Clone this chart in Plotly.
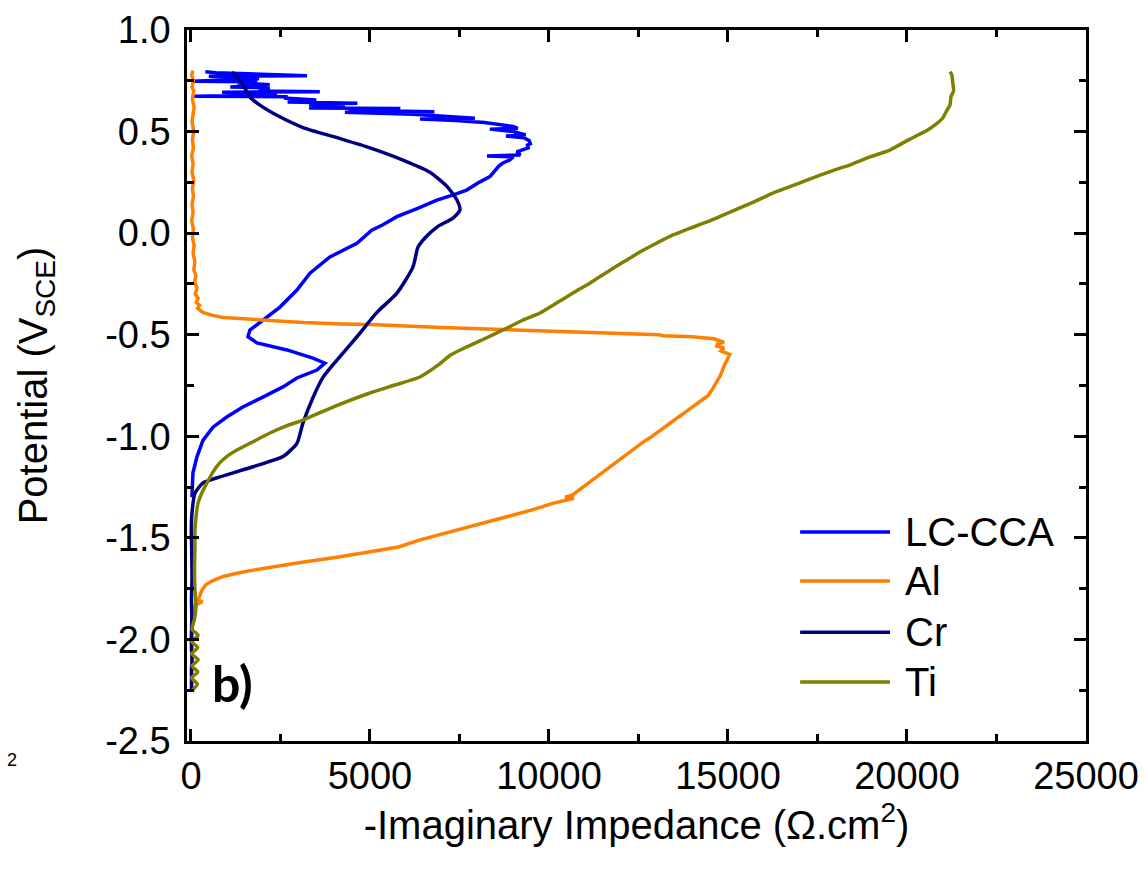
import plotly.graph_objects as go

# ---------------- data (potential V_SCE, -Z'' ohm.cm2) ----------------
lc_v = [0.795, 0.79, 0.775, 0.772, 0.768, 0.76, 0.748, 0.745, 0.74, 0.73, 0.72, 0.715, 0.70,
        0.696, 0.694, 0.69, 0.68, 0.674, 0.672, 0.665, 0.655, 0.645, 0.639, 0.635, 0.625, 0.616,
        0.614, 0.605, 0.598, 0.595, 0.585, 0.575, 0.565, 0.562, 0.555, 0.545, 0.535, 0.525, 0.516,
        0.512, 0.50, 0.49, 0.483, 0.478, 0.47, 0.455, 0.44, 0.434, 0.42, 0.40, 0.385, 0.38, 0.375,
        0.36, 0.344, 0.33, 0.31, 0.278, 0.25, 0.212, 0.19, 0.163, 0.12, 0.081, 0.04, 0.015, -0.05,
        -0.117, -0.197, -0.28, -0.364, -0.43, -0.477, -0.51, -0.54, -0.575, -0.615, -0.64, -0.674,
        -0.713, -0.757, -0.807, -0.856, -0.905, -0.955, -1.02, -1.10, -1.18, -1.30]
lc_z = [400, 700, 3240, 500, 1500, 1900, 28, 1850, 1300, 2200, 1100, 2200, 1900,
        3600, 870, 1800, 2400, 60, 2700, 2600, 3500, 2700, 4650, 3300, 4300, 3300,
        5850, 4400, 6800, 4300, 6200, 7000, 7930, 6400, 7400, 8200, 8700, 9000, 9130,
        8350, 9000, 9200, 9350, 8800, 9300, 9450, 9480, 9400, 9420, 9100, 9200, 8270, 9000,
        8900, 8700, 8600, 8500, 8350, 8050, 7700, 7350, 6870, 6300, 5750, 5350, 5050, 4636,
        3882, 3324, 2960, 2486, 2011, 1648, 1592, 1843, 2681, 3407, 3742, 3519,
        2960, 2570, 2010, 1450, 1000, 615, 335, 170, 56, 28]

al_v = [0.80, 0.78, 0.75, 0.72, 0.70, 0.66, 0.62, 0.58, 0.55, 0.50, 0.46, 0.42, 0.38, 0.34,
        0.30, 0.26, 0.22, 0.18, 0.14, 0.10, 0.06, 0.02, -0.02, -0.06, -0.10, -0.14, -0.18,
        -0.21, -0.24, -0.27, -0.30, -0.32, -0.34, -0.355, -0.37, -0.39, -0.405, -0.415, -0.42,
        -0.43, -0.44, -0.447, -0.45, -0.465, -0.48, -0.49, -0.50, -0.505, -0.51, -0.52, -0.537,
        -0.545, -0.556, -0.565, -0.58, -0.597, -0.65, -0.70, -0.734, -0.77, -0.80, -0.84, -0.879,
        -0.91, -0.944, -0.97, -0.99, -1.01, -1.03, -1.05, -1.07, -1.095, -1.12, -1.145, -1.17,
        -1.195, -1.22, -1.26, -1.29, -1.30, -1.305, -1.33, -1.36, -1.39, -1.42, -1.45, -1.48,
        -1.51, -1.545, -1.57, -1.595, -1.62, -1.644, -1.66, -1.674, -1.69, -1.71, -1.73, -1.757,
        -1.78, -1.806, -1.815, -1.82, -1.84, -1.88, -1.92, -1.96, -2.0, -2.05, -2.1, -2.15,
        -2.2, -2.25]
al_z = [60, 20, 70, 30, 80, 40, 90, 50, 30, 80, 40, 70, 20, 60,
        30, 80, 40, 70, 30, 60, 20, 70, 40, 90, 60, 110, 80,
        140, 100, 170, 120, 200, 150, 240, 190, 335, 600, 900, 1285,
        2200, 3128, 4200, 5000, 7000, 9500, 11500, 13070, 13200, 14000, 14600, 14890,
        14700, 14690, 14890, 14800, 15050, 14900, 14790, 14690, 14560, 14440, 14150, 13830,
        13580, 13320, 13120, 12930, 12800, 12620, 12470, 12320, 12130, 11950, 11760, 11560,
        11380, 11200, 10900, 10650, 10450, 10700, 10100, 9580, 8950, 8320, 7700, 7000,
        6400, 5800, 4950, 4080, 3100, 2210, 1700, 1285, 900, 614, 420, 307,
        260, 200, 320, 251, 56, 30, 60, 20, 50, 10, 40, 0,
        30, 10]

cr_v = [0.793, 0.74, 0.67, 0.63, 0.58, 0.52, 0.47, 0.42, 0.36, 0.30, 0.23, 0.163, 0.114,
        0.074, 0.03, -0.024, -0.07, -0.167, -0.295, -0.39, -0.51, -0.625, -0.71, -0.81,
        -0.935, -1.035, -1.10, -1.15, -1.20, -1.23, -1.28, -1.38, -1.46, -1.55, -1.70,
        -1.80, -1.90, -2.0, -2.1, -2.2, -2.25]
cr_z = [1145, 1424, 1648, 1927, 2402, 3128, 4078, 5000, 5921, 6675, 7150, 7430, 7513,
        7318, 6871, 6536, 6340, 6200, 5754, 5195, 4636, 4078, 3687, 3407,
        3128, 2960, 2570, 1732, 810, 335, 112, 28, 10, 20, 30,
        15, 25, 10, 30, 15, 20]

ti_v = [0.795, 0.78, 0.74, 0.70, 0.672, 0.63, 0.60, 0.567, 0.535, 0.508, 0.463, 0.409, 0.375,
        0.335, 0.32, 0.29, 0.261, 0.23, 0.197, 0.16, 0.124, 0.09, 0.055, 0.025, -0.009, -0.05,
        -0.093, -0.14, -0.192, -0.245, -0.295, -0.345, -0.393, -0.43, -0.477, -0.52, -0.56,
        -0.60, -0.65, -0.708, -0.75, -0.787, -0.85, -0.92, -0.95, -0.984, -1.03, -1.068, -1.10,
        -1.13, -1.18, -1.23, -1.28, -1.33, -1.40, -1.46, -1.55, -1.65, -1.75, -1.84, -1.90,
        -1.95, -1.98, -2.01, -2.04, -2.07, -2.10, -2.13, -2.16, -2.19, -2.22, -2.25]
ti_z = [21200, 21250, 21280, 21300, 21230, 21200, 21100, 21000, 20800, 20580, 20080, 19520, 18965,
        18400, 18127, 17650, 17205, 16750, 16255, 15800, 15333, 14880, 14412, 13950, 13462, 13000,
        12540, 12100, 11620, 11150, 10669, 10200, 9748, 9250, 8714, 8200, 7700,
        7250, 6900, 6396, 5650, 5000, 4050, 3128, 2650, 2206, 1700, 1285, 1000,
        810, 600, 447, 300, 196, 140, 112, 110, 100, 110, 140, 100,
        30, 200, 20, 190, 20, 200, 30, 190, 20, 180, 40]

series = [
    ("LC-CCA", lc_z, lc_v, "#0000FF", "linear"),
    ("Al", al_z, al_v, "#FF8000", "linear"),
    ("Cr", cr_z, cr_v, "#000080", "spline"),
    ("Ti", ti_z, ti_v, "#808000", "spline"),
]

y_ticks = [1.0, 0.5, 0.0, -0.5, -1.0, -1.5, -2.0, -2.5]
y_tick_text = ["1.0", "0.5", "0.0", "-0.5", "-1.0", "-1.5", "-2.0", "-2.5"]
x_ticks = [0, 5000, 10000, 15000, 20000, 25000]
x_tick_text = ["0", "5000", "10000", "15000", "20000", "25000"]

FONT = "Liberation Sans, Arial, Helvetica, sans-serif"

fig = go.Figure()
for name, z, v, col, shp in series:
    fig.add_trace(go.Scatter(x=z, y=v, mode="lines", name=name,
                             line=dict(color=col, width=3.5, shape=shp, smoothing=0.6),
                             showlegend=False))

# manual legend (long line keys like the original)
legend_y = [0.294, 0.225, 0.153, 0.083]
for (name, z, v, col, shp), ly in zip(series, legend_y):
    fig.add_shape(type="line", xref="paper", yref="paper", x0=0.682, x1=0.782, y0=ly, y1=ly,
                  line=dict(color=col, width=3.5))
    fig.add_annotation(xref="paper", yref="paper", x=0.796, y=ly, text=name, showarrow=False,
                       xanchor="left", yanchor="middle", font=dict(family=FONT, size=40, color="black"))

fig.add_annotation(xref="paper", yref="paper", x=0.026, y=0.082, text="<b>b)</b>", showarrow=False,
                   xanchor="left", yanchor="middle", font=dict(family="Lato, Open Sans, sans-serif", size=50, color="black"))
fig.add_annotation(xref="paper", yref="paper", x=-0.203, y=-0.027, text="2", showarrow=False,
                   xanchor="left", yanchor="middle", font=dict(family=FONT, size=18, color="black"))

axis_common = dict(showline=True, linecolor="black", linewidth=2.5, mirror="allticks",
                   ticks="inside", ticklen=12, tickwidth=2.5, tickcolor="black",
                   showgrid=False, zeroline=False,
                   tickfont=dict(family=FONT, size=38, color="black"))

fig.update_xaxes(range=[-110, 25000], tickmode="array", tickvals=x_ticks, ticktext=x_tick_text,
                 minor=dict(ticks="inside", ticklen=7, tickwidth=2.5, tickcolor="black", dtick=2500, tick0=0),
                 ticklabelstandoff=0,
                 title=dict(text="-Imaginary Impedance (\u03a9.cm<sup>2</sup>)",
                            font=dict(family=FONT, size=40, color="black"), standoff=6),
                 **axis_common)
fig.update_yaxes(range=[-2.5, 1.0], tickmode="array", tickvals=y_ticks, ticktext=y_tick_text,
                 minor=dict(ticks="inside", ticklen=7, tickwidth=2.5, tickcolor="black", dtick=0.25, tick0=0),
                 ticklabelstandoff=6,
                 title=dict(text="Potential (V<sub>SCE</sub>)",
                            font=dict(family=FONT, size=40, color="black"), standoff=46),
                 **axis_common)

fig.update_layout(width=1148, height=876, margin=dict(l=187, r=62, t=30, b=135, autoexpand=False),
                  plot_bgcolor="white", paper_bgcolor="white", showlegend=False)

fig.write_html("out.html")
